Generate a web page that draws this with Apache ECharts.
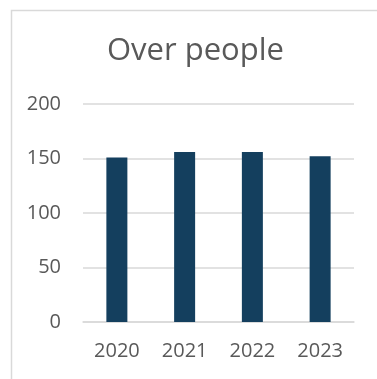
<!DOCTYPE html>
<html>
<head>
<meta charset="utf-8">
<script src="https://cdn.jsdelivr.net/npm/echarts@6/dist/echarts.min.js"></script>
<style>
  html, body { margin: 0; padding: 0; background: #fff; }
  #chart { width: 377px; height: 379px; }
</style>
</head>
<body>
<div id="chart"></div>
<script>
// Yearly headcount
const years = ['2020', '2021', '2022', '2023'];
const people = [151, 156, 156, 152];
const yTicks = [0, 50, 100, 150, 200];

const FONT = 'Open Sans, Liberation Sans, Arial, sans-serif';

const chart = echarts.init(document.getElementById('chart'), null, { renderer: 'canvas' });

chart.setOption({
  animation: false,
  backgroundColor: '#ffffff',
  title: {
    text: 'Over people',
    left: 107,
    top: 36,
    padding: 0,
    textStyle: {
      fontFamily: FONT,
      fontSize: 31,
      fontWeight: 'normal',
      color: '#595959'
    }
  },
  graphic: [{
    type: 'rect',
    left: 9,
    top: 8,
    shape: { width: 420, height: 420 },
    style: { fill: 'none', stroke: '#d9d9d9', lineWidth: 1.5 },
    silent: true,
    z: -1
  }],
  grid: { left: 83, right: 23, top: 104, bottom: 57 },
  xAxis: {
    type: 'category',
    data: years,
    axisLine: { show: true, lineStyle: { color: '#d9d9d9', width: 1.5 } },
    axisTick: { show: false },
    axisLabel: {
      margin: 19,
      fontFamily: FONT,
      fontSize: 20,
      color: '#595959'
    }
  },
  yAxis: {
    type: 'value',
    min: yTicks[0],
    max: yTicks[yTicks.length - 1],
    interval: yTicks[1] - yTicks[0],
    axisLine: { show: false },
    axisTick: { show: false },
    splitLine: { lineStyle: { color: '#d9d9d9', width: 1.5 } },
    axisLabel: {
      margin: 22,
      fontFamily: FONT,
      fontSize: 20,
      color: '#595959'
    }
  },
  series: [{
    type: 'bar',
    data: people,
    barWidth: '31%',
    itemStyle: { color: '#143f5e' }
  }]
});
</script>
</body>
</html>
